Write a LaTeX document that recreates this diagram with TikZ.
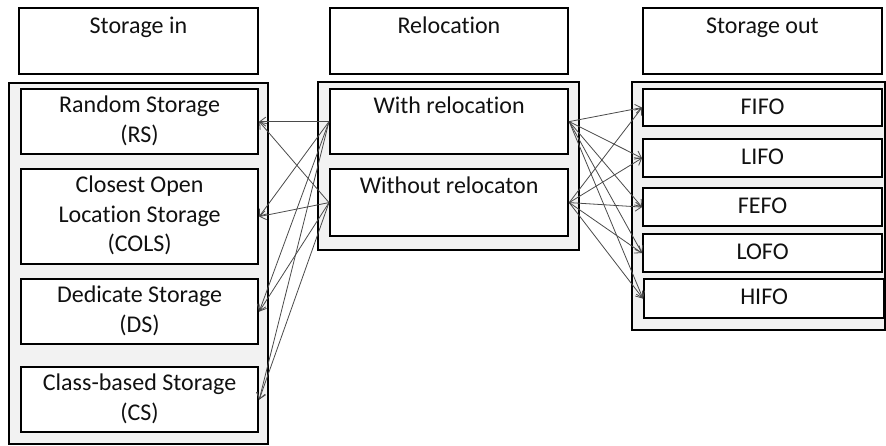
\documentclass[tikz,border=0pt]{standalone}
\usepackage{fontspec}
\setmainfont{Carlito}[Ligatures=CommonOff]
\usetikzlibrary{arrows.meta}
\definecolor{boxgray}{HTML}{F2F2F2}
\definecolor{txtcol}{HTML}{111111}
\definecolor{linegray}{HTML}{4A4A4A}
\begin{document}
\begin{tikzpicture}[x=1pt,y=-1pt,
  outer/.style={draw=black, line width=2.4pt, fill=boxgray, rectangle, inner sep=0pt, anchor=north west},
  box/.style={draw=black, line width=2.2pt, fill=white, rectangle, inner sep=0pt, anchor=north west},
  head/.style={draw=black, line width=1.9pt, fill=white, rectangle, inner sep=0pt, anchor=north west},
  txt/.style={anchor=north, inner sep=0pt, align=center, font=\fontsize{24}{29.5}\selectfont, text=txtcol, execute at begin node=\rule{0pt}{18pt}},
  conn/.style={draw=linegray, line width=0.8pt, -{Straight Barb[length=6pt,width=9pt,line width=0.8pt]}}
]
\useasboundingbox (0,0) rectangle (886,446);

% headers
\node[head, minimum width=239pt, minimum height=66pt] (h1) at (18,7) {};
\node[head, minimum width=238pt, minimum height=66pt] (h2) at (329,7) {};
\node[head, minimum width=239pt, minimum height=66pt] (h3) at (642,7) {};
\node[txt] (t1) at ([yshift=-8pt]h1.north) {Storage in};
\node[txt] (t2) at ([yshift=-8pt]h2.north) {Relocation};
\node[txt] (t3) at ([yshift=-8pt]h3.north) {Storage out};

% containers
\node[outer, minimum width=259pt, minimum height=361pt] (oin) at (8,82) {};
\node[outer, minimum width=261pt, minimum height=168pt] (orel) at (317,81) {};
\node[outer, minimum width=253pt, minimum height=248pt] (oout) at (631,81) {};

% storage in
\node[box, minimum width=237pt, minimum height=65pt] (rs) at (20,88) {};
\node[box, minimum width=237pt, minimum height=95pt] (cols) at (20,168) {};
\node[box, minimum width=237pt, minimum height=65pt] (ds) at (20,278) {};
\node[box, minimum width=237pt, minimum height=65pt] (cs) at (20,366) {};
\node[txt] (trs) at ([yshift=-8pt]rs.north) {Random Storage\\(RS)};
\node[txt] (tcols) at ([yshift=-8pt]cols.north) {Closest Open\\Location Storage\\(COLS)};
\node[txt] (tds) at ([yshift=-8pt]ds.north) {Dedicate Storage\\(DS)};
\node[txt] (tcs) at ([yshift=-8pt]cs.north) {Class-based Storage\\(CS)};

% relocation
\node[box, minimum width=238pt, minimum height=65pt] (with) at (329,88) {};
\node[box, minimum width=238pt, minimum height=67pt] (without) at (329,168) {};
\node[txt] (twith) at ([yshift=-7pt]with.north) {With relocation};
\node[txt] (twithout) at ([yshift=-7pt]without.north) {Without relocaton};

% storage out
\node[box, minimum width=239pt, minimum height=37pt] (fifo) at (642,88) {};
\node[box, minimum width=239pt, minimum height=38pt] (lifo) at (642,138) {};
\node[box, minimum width=239pt, minimum height=38pt] (fefo) at (642,187) {};
\node[box, minimum width=239pt, minimum height=38pt] (lofo) at (642,233) {};
\node[box, minimum width=240pt, minimum height=39pt] (hifo) at (643,278) {};
\node[txt] (tfifo) at ([yshift=-8pt]fifo.north) {FIFO};
\node[txt] (tlifo) at ([yshift=-8pt]lifo.north) {LIFO};
\node[txt] (tfefo) at ([yshift=-8pt]fefo.north) {FEFO};
\node[txt] (tlofo) at ([yshift=-8pt]lofo.north) {LOFO};
\node[txt] (thifo) at ([yshift=-8pt]hifo.north) {HIFO};

% connectors
\foreach \s in {with,without}{
  \foreach \t in {rs,cols,ds,cs}{
    \draw[conn] (\s.west) -- (\t.east);
  }
  \foreach \t in {fifo,lifo,fefo,lofo,hifo}{
    \draw[conn] (\s.east) -- (\t.west);
  }
}
\end{tikzpicture}
\end{document}
